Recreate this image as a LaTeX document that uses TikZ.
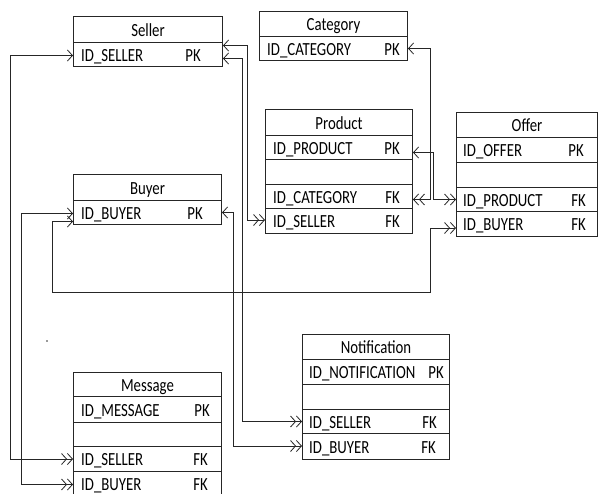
\documentclass[tikz,border=0pt]{standalone}
\usepackage{fontspec}
\newfontfamily\erfont{Carlito}[FakeStretch=0.8]
\usetikzlibrary{arrows.meta}
\tikzset{
  cell/.style={draw=black!85, line width=1pt, inner sep=0pt, anchor=north west},
  lbl/.style={anchor=base west, inner sep=0pt, font={\erfont\fontsize{18.5}{20}\selectfont}},
  key/.style={anchor=base east, inner sep=0pt, font={\erfont\fontsize{18.5}{20}\selectfont}},
  ttl/.style={anchor=base, inner sep=0pt, font={\erfont\fontsize{18.5}{20}\selectfont}},
  conn/.style={draw=black!85, line width=0.8pt},
  onetip/.tip={Straight Barb[length=5pt,width=11pt]},
  manytip/.tip={Straight Barb[length=5pt,width=11pt] Straight Barb[length=5pt,width=11pt]}
}
\begin{document}
\begin{tikzpicture}[x=1pt,y=-1pt]
\useasboundingbox (0,0) rectangle (600,493);
\fill[white] (0,0) rectangle (600,493);

% Seller
\node[cell, minimum width=149pt, minimum height=26pt] (sellerH) at (73,16) {};
\node[cell, minimum width=149pt, minimum height=24pt] (sellerR) at (73,42) {};
\node[ttl] (sellerT) at ([yshift=-6.5pt]sellerH.center) {Seller};
\node[lbl] (sellerA) at ([xshift=8pt,yshift=-6.5pt]sellerR.west) {ID\_SELLER};
\node[key] (sellerK) at ([xshift=-22pt,yshift=-6.5pt]sellerR.east) {PK};

% Category
\node[cell, minimum width=148pt, minimum height=25pt] (catH) at (259,11) {};
\node[cell, minimum width=148pt, minimum height=24pt] (catR) at (259,36) {};
\node[ttl] (catT) at ([yshift=-6.5pt]catH.center) {Category};
\node[lbl] (catA) at ([xshift=8pt,yshift=-6.5pt]catR.west) {ID\_CATEGORY};
\node[key] (catK) at ([xshift=-8pt,yshift=-6.5pt]catR.east) {PK};

% Product
\node[cell, minimum width=147pt, minimum height=26pt] (prodH) at (265,109) {};
\node[cell, minimum width=147pt, minimum height=24pt] (prodP) at (265,135) {};
\node[cell, minimum width=147pt, minimum height=25pt] (prodE) at (265,159) {};
\node[cell, minimum width=147pt, minimum height=24pt] (prodC) at (265,184) {};
\node[cell, minimum width=147pt, minimum height=25pt] (prodS) at (265,208) {};
\node[ttl] (prodT) at ([yshift=-6.5pt]prodH.center) {Product};
\node[lbl] (prodA) at ([xshift=8pt,yshift=-6.5pt]prodP.west) {ID\_PRODUCT};
\node[key] (prodK) at ([xshift=-13pt,yshift=-6.5pt]prodP.east) {PK};
\node[lbl] (prodB) at ([xshift=8pt,yshift=-6.5pt]prodC.west) {ID\_CATEGORY};
\node[key] (prodL) at ([xshift=-13pt,yshift=-6.5pt]prodC.east) {FK};
\node[lbl] (prodD) at ([xshift=8pt,yshift=-6.5pt]prodS.west) {ID\_SELLER};
\node[key] (prodM) at ([xshift=-13pt,yshift=-6.5pt]prodS.east) {FK};

% Offer
\node[cell, minimum width=141pt, minimum height=25pt] (offerH) at (456,112) {};
\node[cell, minimum width=141pt, minimum height=25pt] (offerP) at (456,137) {};
\node[cell, minimum width=141pt, minimum height=25pt] (offerE) at (456,162) {};
\node[cell, minimum width=141pt, minimum height=24pt] (offerR) at (456,187) {};
\node[cell, minimum width=141pt, minimum height=25pt] (offerB) at (456,211) {};
\node[ttl] (offerT) at ([yshift=-6.5pt]offerH.center) {Offer};
\node[lbl] (offerA) at ([xshift=7pt,yshift=-6.5pt]offerP.west) {ID\_OFFER};
\node[key] (offerK) at ([xshift=-14pt,yshift=-6.5pt]offerP.east) {PK};
\node[lbl] (offerC) at ([xshift=7pt,yshift=-6.5pt]offerR.west) {ID\_PRODUCT};
\node[key] (offerL) at ([xshift=-12pt,yshift=-6.5pt]offerR.east) {FK};
\node[lbl] (offerD) at ([xshift=7pt,yshift=-6.5pt]offerB.west) {ID\_BUYER};
\node[key] (offerM) at ([xshift=-12pt,yshift=-6.5pt]offerB.east) {FK};

% Buyer
\node[cell, minimum width=148pt, minimum height=26pt] (buyerH) at (73,174) {};
\node[cell, minimum width=148pt, minimum height=24pt] (buyerR) at (73,200) {};
\node[ttl] (buyerT) at ([yshift=-6.5pt]buyerH.center) {Buyer};
\node[lbl] (buyerA) at ([xshift=8pt,yshift=-6.5pt]buyerR.west) {ID\_BUYER};
\node[key] (buyerK) at ([xshift=-19pt,yshift=-6.5pt]buyerR.east) {PK};

% Notification
\node[cell, minimum width=147pt, minimum height=25pt] (notH) at (302,334) {};
\node[cell, minimum width=147pt, minimum height=25pt] (notP) at (302,359) {};
\node[cell, minimum width=147pt, minimum height=25pt] (notE) at (302,384) {};
\node[cell, minimum width=147pt, minimum height=24pt] (notS) at (302,409) {};
\node[cell, minimum width=147pt, minimum height=26pt] (notB) at (302,433) {};
\node[ttl] (notT) at ([yshift=-6.5pt]notH.center) {Notification};
\node[lbl] (notA) at ([xshift=7pt,yshift=-6.5pt]notP.west) {ID\_NOTIFICATION};
\node[key] (notK) at ([xshift=-6pt,yshift=-6.5pt]notP.east) {PK};
\node[lbl] (notC) at ([xshift=7pt,yshift=-6.5pt]notS.west) {ID\_SELLER};
\node[key] (notL) at ([xshift=-13pt,yshift=-6.5pt]notS.east) {FK};
\node[lbl] (notD) at ([xshift=7pt,yshift=-6.5pt]notB.west) {ID\_BUYER};
\node[key] (notM) at ([xshift=-14pt,yshift=-6.5pt]notB.east) {FK};

% Message
\node[cell, minimum width=148pt, minimum height=24pt] (msgH) at (73,372) {};
\node[cell, minimum width=148pt, minimum height=26pt] (msgP) at (73,396) {};
\node[cell, minimum width=148pt, minimum height=24pt] (msgE) at (73,422) {};
\node[cell, minimum width=148pt, minimum height=25pt] (msgS) at (73,446) {};
\node[cell, minimum width=148pt, minimum height=25pt] (msgB) at (73,471) {};
\node[ttl] (msgT) at ([yshift=-6.5pt]msgH.center) {Message};
\node[lbl] (msgA) at ([xshift=8pt,yshift=-6.5pt]msgP.west) {ID\_MESSAGE};
\node[key] (msgK) at ([xshift=-12pt,yshift=-6.5pt]msgP.east) {PK};
\node[lbl] (msgC) at ([xshift=8pt,yshift=-6.5pt]msgS.west) {ID\_SELLER};
\node[key] (msgL) at ([xshift=-14pt,yshift=-6.5pt]msgS.east) {FK};
\node[lbl] (msgD) at ([xshift=8pt,yshift=-6.5pt]msgB.west) {ID\_BUYER};
\node[key] (msgM) at ([xshift=-14pt,yshift=-6.5pt]msgB.east) {FK};

% stray dot
\fill[black!80] (47,341) circle (0.9pt);

% connectors
\draw[conn, onetip-manytip] ([yshift=-1pt]sellerR.west) -- ++(-63,0) |- ([yshift=0pt]msgS.west);
\draw[conn, onetip-manytip] ([yshift=-1pt]buyerR.west) -- ++(-52,0) |- ([yshift=-0.5pt]msgB.west);
\draw[conn, onetip-manytip] ([yshift=-9pt]buyerR.west) -- ++(-21,0) |- (430,292) |- ([yshift=-4pt]offerB.west);
\draw[conn, onetip-manytip] ([yshift=9pt]sellerR.east) -- ++(24,0) |- ([yshift=1pt]prodS.west);
\draw[conn, onetip-manytip] ([yshift=-4pt]sellerR.east) -- ++(19,0) |- ([yshift=0pt]notS.west);
\draw[conn, onetip-manytip] (buyerR.east) -- ++(11,0) |- ([yshift=0.5pt]notB.west);
\draw[conn, onetip-manytip] (catR.east) -- ++(22,0) |- ([yshift=-3pt]prodC.east);
\draw[conn, onetip-manytip] ([yshift=-5pt]prodP.east) -- ++(20,0) |- ([yshift=0pt]offerR.west);
\end{tikzpicture}
\end{document}
